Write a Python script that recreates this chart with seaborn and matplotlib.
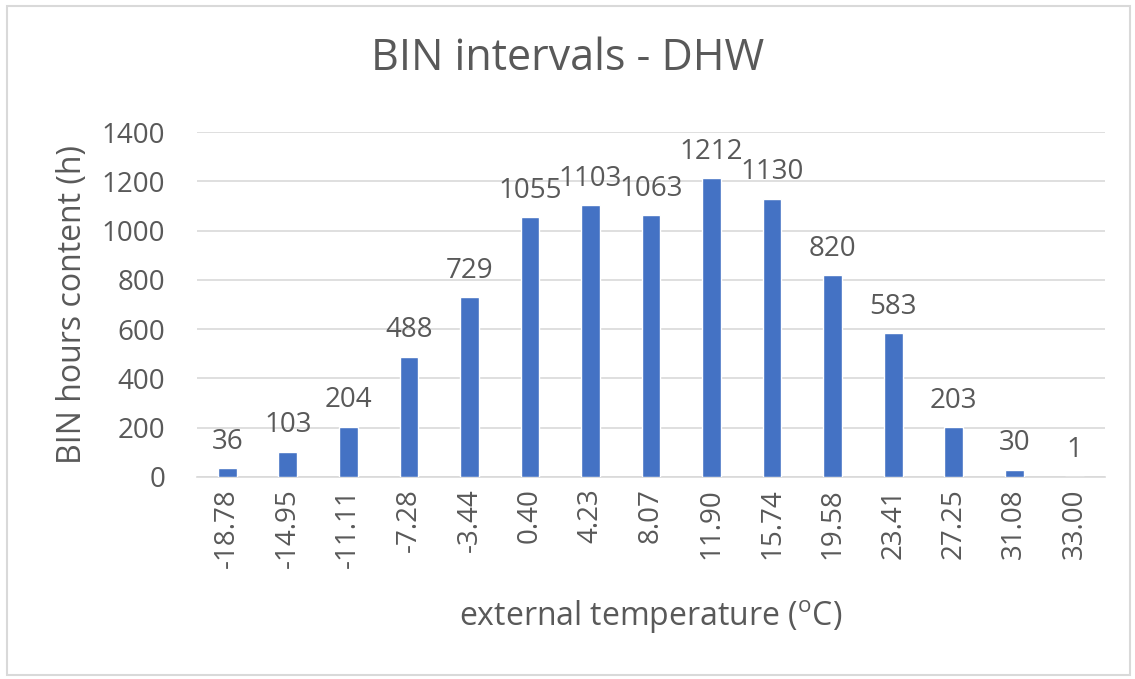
import matplotlib
matplotlib.use("Agg")
import matplotlib.pyplot as plt
import seaborn as sns
import pandas as pd

categories = ["-18.78", "-14.95", "-11.11", "-7.28", "-3.44", "0.40", "4.23", "8.07",
              "11.90", "15.74", "19.58", "23.41", "27.25", "31.08", "33.00"]
hours = [36, 103, 204, 488, 729, 1055, 1103, 1063, 1212, 1130, 820, 583, 203, 30, 1]
yticks = [0, 200, 400, 600, 800, 1000, 1200, 1400]

sns.set_theme(style="white")
font = "Open Sans"
plt.rcParams["font.family"] = [font, "DejaVu Sans"]
plt.rcParams["mathtext.fontset"] = "custom"
plt.rcParams["mathtext.rm"] = font
plt.rcParams["mathtext.it"] = font

txt = "#595959"
df = pd.DataFrame({"temp": categories, "hours": hours})

fig = plt.figure(figsize=(11.35, 6.79), dpi=100)
ax = fig.add_axes([0.1736, 0.2975, 0.80, 0.508])
sns.barplot(data=df, x="temp", y="hours", color="#4472C4", width=0.31,
            saturation=1, ax=ax, zorder=3)

ax.set_ylim(0, 1400)
ax.set_yticks(yticks)
ax.set_yticklabels([str(v) for v in yticks], fontsize=20, color=txt)
ax.set_xlim(-0.5, len(categories) - 0.5)
ax.tick_params(axis="x", rotation=90, labelsize=20, labelcolor=txt, length=0, pad=8)
ax.tick_params(axis="y", length=0, pad=23)
ax.yaxis.grid(True, color="#D9D9D9", linewidth=1.2, zorder=0)
for s in ["top", "right", "left"]:
    ax.spines[s].set_visible(False)
ax.spines["bottom"].set_color("#D9D9D9")
ax.spines["bottom"].set_linewidth(1.2)

for i, v in enumerate(hours):
    ax.annotate(str(v), (i, v), xytext=(0, 14), textcoords="offset points",
                ha="center", va="baseline", fontsize=20, color=txt)

ax.set_xlabel(r"external temperature ($^{\mathrm{o}}$C)", fontsize=23, color=txt, labelpad=22)
ax.set_ylabel("BIN hours content (h)", fontsize=23, color=txt, labelpad=9)
fig.text(0.5, 0.897, "BIN intervals - DHW", ha="center", va="baseline", fontsize=31, color=txt)

border = plt.Rectangle((0.006, 0.006), 0.99, 0.985, transform=fig.transFigure,
                       fill=False, edgecolor="#D9D9D9", linewidth=1.5)
fig.patches.append(border)

fig.savefig("out.png", dpi=100)
